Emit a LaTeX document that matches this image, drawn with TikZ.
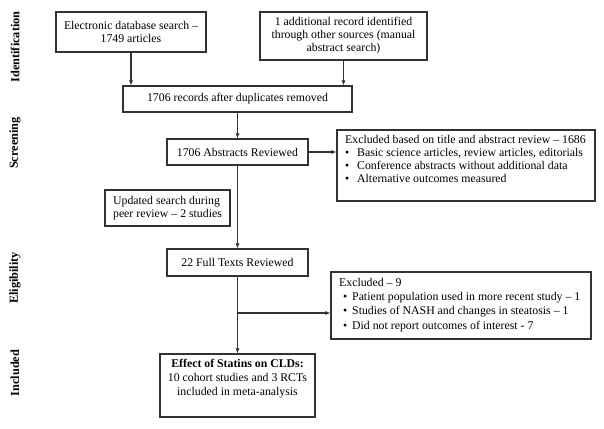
\documentclass[tikz,border=0pt]{standalone}
\usepackage{fontspec}
\setmainfont{Liberation Serif}
\usetikzlibrary{arrows.meta}
\begin{document}
\begin{tikzpicture}[x=1pt,y=-1pt,
  every node/.style={font=\fontsize{11.8}{13}\selectfont, inner sep=0pt},
  box/.style={draw=black!80, line width=1.1pt, align=center},
  phase/.style={rotate=90, font=\fontsize{12.3}{13}\selectfont\bfseries},
  conn/.style={draw=black!80, line width=1.1pt, -{Latex[length=5pt,width=4.2pt]}}]
\useasboundingbox[fill=white] (0,0) rectangle (604,428);

% phase labels
\node[phase] (pid) at (15,47) {Identification};
\node[phase] (psc) at (15,143) {Screening};
\node[phase] (pel) at (15,278) {Eligibility};
\node[phase] (pin) at (15,373) {Included};

% boxes
\node[box, minimum width=150, minimum height=40] (b1) at (131,32)
  {Electronic database search --\\1749 articles};
\node[box, minimum width=167, minimum height=48] (b2) at (343.5,36)
  {1 additional record identified\\through other sources (manual\\abstract search)};
\node[box, minimum width=229, minimum height=26] (b3) at (237.5,99)
  {1706 records after duplicates removed};
\node[box, minimum width=141, minimum height=26] (b4) at (237.5,152)
  {1706 Abstracts Reviewed};
\node[box, minimum width=258, minimum height=71] (ex1) at (466,165.5) {};
\node[anchor=north west, align=left, font=\fontsize{11.8}{12.8}\selectfont] (ex1t) at (345,135.5)
  {Excluded based on title and abstract review -- 1686\\
   \makebox[12pt][l]{\textbullet}Basic science articles, review articles, editorials\\
   \makebox[12pt][l]{\textbullet}Conference abstracts without additional data\\
   \makebox[12pt][l]{\textbullet}Alternative outcomes measured};
\node[box, align=left, minimum width=125, minimum height=36] (upd) at (167.5,208)
  {Updated search during\\peer review -- 2 studies};
\node[box, minimum width=141, minimum height=27] (b5) at (237.5,262.5)
  {22 Full Texts Reviewed};
\node[box, minimum width=260, minimum height=67] (ex2) at (461,305.5) {};
\node[anchor=west, align=left, font=\fontsize{11.8}{14.3}\selectfont] (ex2t) at (339,305)
  {Excluded -- 9\\
   \makebox[13pt][l]{\hspace{4pt}\textbullet}Patient population used in more recent study -- 1\\
   \makebox[13pt][l]{\hspace{4pt}\textbullet}Studies of NASH and changes in steatosis -- 1\\
   \makebox[13pt][l]{\hspace{4pt}\textbullet}Did not report outcomes of interest - 7};
\node[box, minimum width=155, minimum height=63] (b6) at (237.5,385.5) {};
\node[anchor=north, align=center, font=\fontsize{11.8}{14}\selectfont] (b6t) at (237.5,358.5)
  {\textbf{Effect of Statins on CLDs:}\\10 cohort studies and 3 RCTs\\included in meta-analysis};

% connectors
\draw[conn] (b1.south) -- (b1.south |- b3.north);
\draw[conn] (b2.south) -- (b2.south |- b3.north);
\draw[conn] (b3.south) -- (b4.north);
\draw[conn] (b4.east) -- (b4.east -| ex1.west);
\draw[conn] (b4.south) -- (b5.north);
\draw[conn] (b5.south) -- (b6.north);
\coordinate (br) at (237.5,313);
\draw[conn] (br) -- (br -| ex2.west);
\end{tikzpicture}
\end{document}
